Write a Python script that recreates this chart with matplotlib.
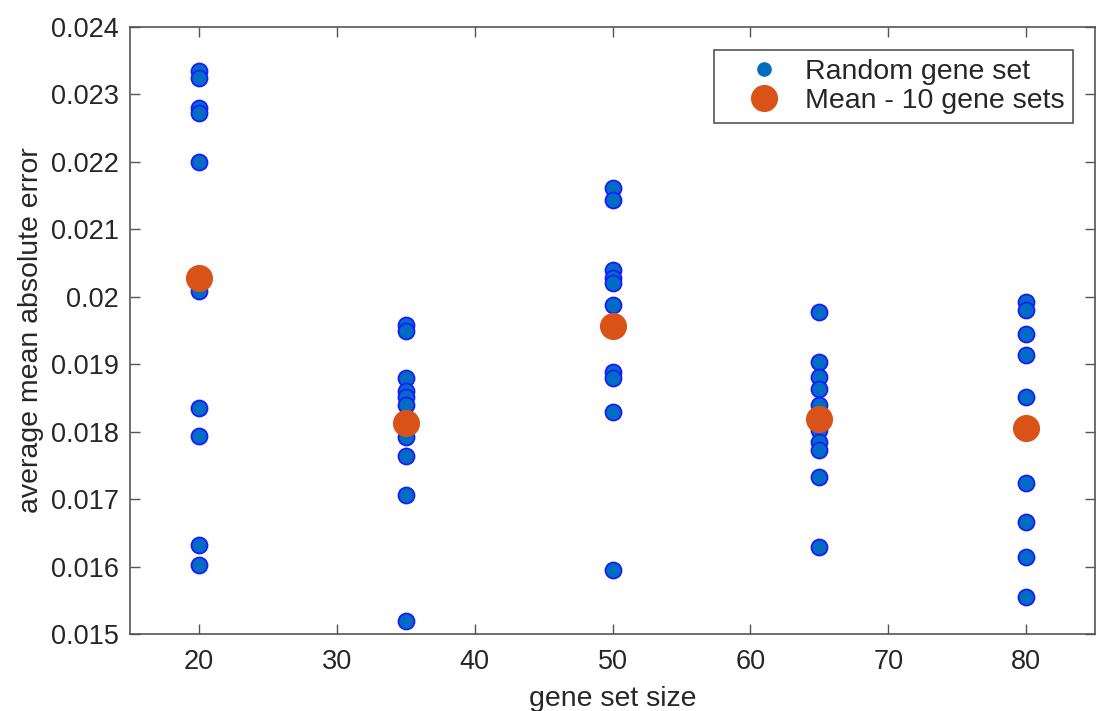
import matplotlib
matplotlib.use("Agg")
import matplotlib.pyplot as plt
from matplotlib.lines import Line2D
import numpy as np

plt.rcParams['font.family'] = ['Liberation Sans', 'DejaVu Sans']

set_sizes = [20, 35, 50, 65, 80]
mae_20 = [0.02335, 0.02325, 0.02280, 0.02272, 0.02200, 0.02008, 0.01835, 0.01793, 0.01632, 0.01602]
mae_35 = [0.01958, 0.01950, 0.01880, 0.01860, 0.01852, 0.01840, 0.01792, 0.01764, 0.01706, 0.01520]
mae_50 = [0.02161, 0.02143, 0.02040, 0.02028, 0.02020, 0.01988, 0.01888, 0.01880, 0.01829, 0.01595]
mae_65 = [0.01977, 0.01903, 0.01881, 0.01863, 0.01840, 0.01802, 0.01785, 0.01773, 0.01733, 0.01629]
mae_80 = [0.01992, 0.01980, 0.01945, 0.01914, 0.01851, 0.01809, 0.01724, 0.01666, 0.01614, 0.01555]
groups = [mae_20, mae_35, mae_50, mae_65, mae_80]
means = [np.mean(g) for g in groups]

x_ticks = [20, 30, 40, 50, 60, 70, 80]
y_ticks = [0.015, 0.016, 0.017, 0.018, 0.019, 0.020, 0.021, 0.022, 0.023, 0.024]
y_ticklabels = ['0.015', '0.016', '0.017', '0.018', '0.019', '0.02', '0.021', '0.022', '0.023', '0.024']

blue = '#006CC4'
blue_edge = '#1a1aff'
orange = '#D95319'
axis_col = '#555555'
text_col = '#262626'
fs = 19.5

fig = plt.figure(figsize=(11.03, 7.11), dpi=100)
ax = fig.add_axes([130/1103, 1 - 634/711, (1095 - 130)/1103, (634 - 27)/711])

for s, g in zip(set_sizes, groups):
    ax.plot([s] * len(g), g, linestyle='none', marker='o', markersize=11.5,
            markerfacecolor=blue, markeredgecolor=blue_edge, markeredgewidth=1.3, zorder=3)
ax.plot(set_sizes, means, linestyle='none', marker='o', markersize=18.5,
        markerfacecolor=orange, markeredgecolor=orange, zorder=4)

ax.set_xlim(15, 85)
ax.set_ylim(0.015, 0.024)
ax.set_xticks(x_ticks)
ax.set_yticks(y_ticks)
ax.set_yticklabels(y_ticklabels)
ax.tick_params(axis='both', direction='in', length=7, width=1.0, colors=axis_col,
               labelcolor=text_col, labelsize=fs, top=True, right=True)
ax.tick_params(axis='x', pad=11)
ax.tick_params(axis='y', pad=8)
for sp in ax.spines.values():
    sp.set_color(axis_col)
    sp.set_linewidth(1.2)

ax.set_xlabel('gene set size', fontsize=20.5, color=text_col, labelpad=8)
ax.set_ylabel('average mean absolute error', fontsize=20.5, color=text_col, labelpad=5)

handles = [
    Line2D([], [], linestyle='none', marker='o', markersize=9.5, markerfacecolor=blue,
           markeredgecolor=blue),
    Line2D([], [], linestyle='none', marker='o', markersize=18.5, markerfacecolor=orange,
           markeredgecolor=orange),
]
leg = ax.legend(handles, ['Random gene set', 'Mean - 10 gene sets'], loc='upper right',
                bbox_to_anchor=(1073/1103, 1 - 50/711), bbox_transform=fig.transFigure,
                fontsize=20.5, frameon=True, fancybox=False, framealpha=1,
                edgecolor=axis_col, borderpad=0.3, labelspacing=0.12, handletextpad=0.0,
                handlelength=2.9, borderaxespad=0)
leg.get_frame().set_linewidth(1.2)
for t in leg.get_texts():
    t.set_color(text_col)

fig.savefig('out.png', dpi=100)
